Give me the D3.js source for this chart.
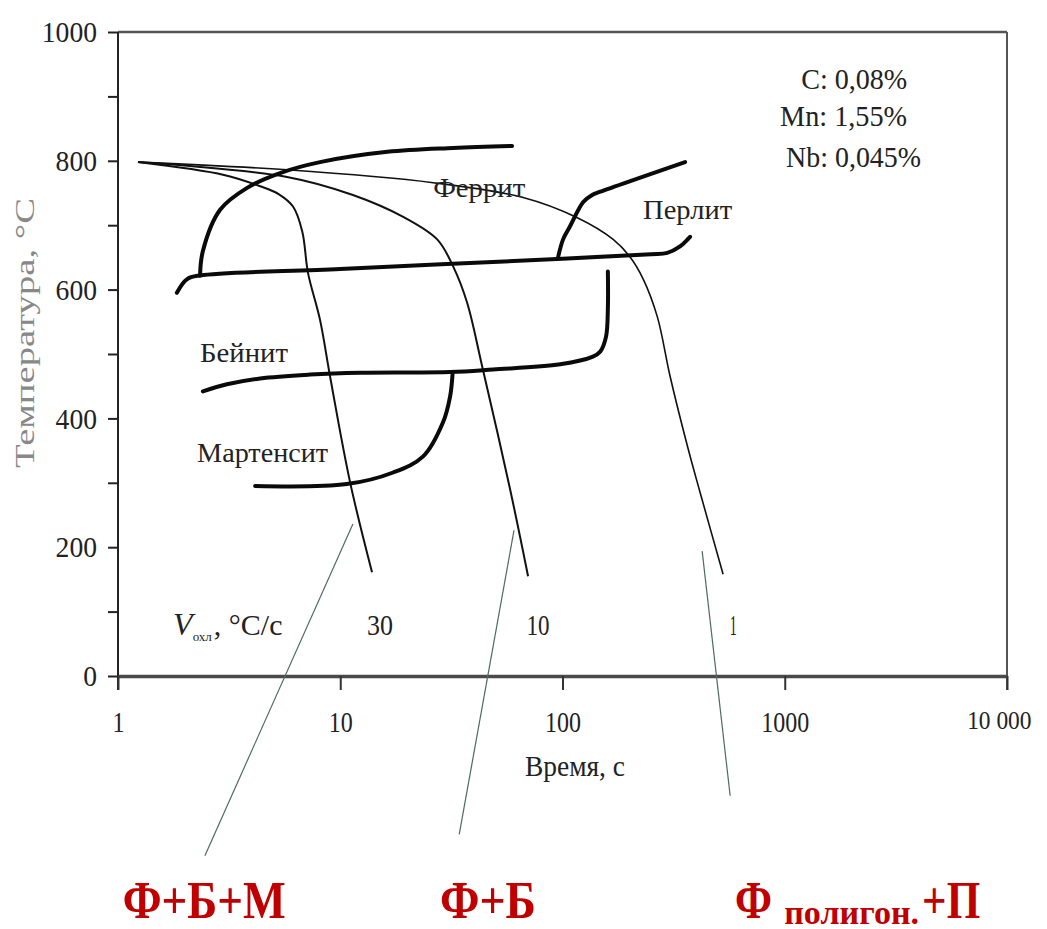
<!DOCTYPE html>
<html><head><meta charset="utf-8">
<script src="https://cdn.jsdelivr.net/npm/d3@7"></script>
<style>
html,body{margin:0;padding:0;background:#fff;}
svg{display:block;}
text{font-family:"Liberation Serif","Times New Roman",serif;}
</style></head>
<body>
<svg id="chart" width="1047" height="929"></svg>
<script>
// ---------- DATA (time in s, temperature in °C) ----------
const xTickValues = [1, 10, 100, 1000, 10000];
const xTickLabels = ["1", "10", "100", "1000", "10 000"];
const yTickValues = [0,100,200,300,400,500,600,700,800,900,1000];
const yTickLabels = ["0","","200","","400","","600","","800","","1000"];

// cooling curves (thin)
const cooling30 = [[1.23,798],[3.0,778],[4.4,760],[5.3,748],[6.13,729],[6.75,690],[7.16,626],[8.11,553],[9.0,465],[11.07,301],[13.9,161]];
const cooling10 = [[1.23,798],[5.76,775],[11.4,747],[19.2,713],[27.3,678],[32.2,636],[37.2,580],[43.5,481],[58.1,290],[70.0,155]];
const cooling1  = [[1.23,798],[5.76,786],[26.2,766],[66.5,743],[116,712],[169,678],[201,651],[231,616],[267,558],[305,465],[368,352],[416,285],[528,158]];
const coolingRates = ["30", "10", "1"];
const coolingRateLabelPos = [[15.1,64],[77.6,64],[586,64]];

// transformation curves (thick)
const ferriteStart = [[2.34,622],[2.41,660],[2.88,724],[3.81,758],[5.36,781],[8.11,798],[16.3,814],[32.2,820],[59.3,823]];
const line600 = [[1.84,595],[2.04,616],[2.34,622],[10,632],[100,648],[250,655],[296,657],[338,667],[375,682]];
const pearliteStart = [[95.5,650],[100.6,678],[108,698],[124,736],[136,747],[148,752],[356,798]];
const bainiteLine = [[2.41,442],[3.09,453],[4.36,462],[7.31,468],[12.3,471],[31.2,472],[48.7,476],[97.6,484],[137,496],[148,504],[157,527],[160,570],[160,628]];
const martensite = [[4.14,295],[10.7,298],[17.3,316],[23.6,341],[29.0,394],[31.2,434],[32.0,468]];

// phase labels
const phaseNames = ["Феррит", "Перлит", "Бейнит", "Мартенсит"];
const phasePos = [[26.2,744],[230.5,710],[2.34,488],[2.27,333]];

// composition
const compLines = ["C: 0,08%", "Mn: 1,55%", "Nb: 0,045%"];
const compPos = [[1186,912],[953,854],[1014,791]];

// pointer lines to structure labels
const pointers = [[[11.4,236],[2.46,-279]], [[60.5,226],[34.3,-246]], [[425,194],[568,-186]]];
const structLabels = ["Ф+Б+М", "Ф+Б"];
const structPos = [[1.05,-375],[28.1,-375]];

// ---------- CHART ----------
const svg = d3.select("#chart");
const x = d3.scaleLog().domain([1, 10000]).range([118, 1007]);
const y = d3.scaleLinear().domain([0, 1000]).range([676, 32]);

function fit(sel, w){ sel.attr("textLength", w).attr("lengthAdjust", "spacingAndGlyphs"); }
function squeeze(sel, r){ sel.each(function(){ const n=this.getComputedTextLength(); if(n>0){ d3.select(this).attr("textLength", n*r).attr("lengthAdjust","spacingAndGlyphs"); } }); }

// frame: top & right
svg.append("line").attr("x1", x(1)).attr("x2", x(10000)).attr("y1", y(1000)).attr("y2", y(1000))
  .attr("stroke", "#555").attr("stroke-width", 2.5);
svg.append("line").attr("x1", x(10000)).attr("x2", x(10000)).attr("y1", y(1000)).attr("y2", y(0)+14)
  .attr("stroke", "#555").attr("stroke-width", 2);

// y axis
const gy = svg.append("g").attr("transform", `translate(${x(1)},0)`)
  .call(d3.axisLeft(y).tickValues(yTickValues).tickSize(10).tickPadding(11).tickSizeOuter(0)
    .tickFormat((d,i)=>yTickLabels[i]));
gy.select(".domain").remove();
gy.selectAll(".tick line").attr("stroke", "#222").attr("stroke-width", 2);
gy.selectAll(".tick text").attr("font-size", 30).attr("fill", "#222")
  .attr("font-family", '"Liberation Serif",serif');
gy.selectAll(".tick text").call(squeeze, 0.92);
svg.append("line").attr("x1", x(1)).attr("x2", x(1)).attr("y1", y(1000)).attr("y2", y(0)+14)
  .attr("stroke", "#222").attr("stroke-width", 2);

// x axis
const lastI = xTickValues.length - 1;
const gx = svg.append("g").attr("transform", `translate(0,${y(0)})`)
  .call(d3.axisBottom(x).tickValues(xTickValues).tickSize(14).tickPadding(21).tickSizeOuter(0)
    .tickFormat((d,i)=>xTickLabels[i]));
gx.select(".domain").attr("stroke", "#4a4a4a").attr("stroke-width", 3.5);
gx.selectAll(".tick line").attr("stroke", "#333").attr("stroke-width", 2);
gx.selectAll(".tick text").attr("font-size", 30)
  .attr("fill", "#222").attr("font-family", '"Liberation Serif",serif');
gx.selectAll(".tick text").each(function(d,i){
  const t = d3.select(this);
  if (i === lastI) { t.attr("font-size", 26).attr("text-anchor", "end").attr("x", 24); }
  t.call(squeeze, i === lastI ? 0.9 : 0.8);
});

// axis titles
svg.append("text").attr("transform", `translate(34,333) rotate(-90)`)
  .attr("text-anchor", "middle").attr("font-size", 28).attr("fill", "#888")
  .text("Температура, °С").call(fit, 270);
svg.append("text").attr("x", 575).attr("y", 776).attr("text-anchor", "middle")
  .attr("font-size", 30).attr("fill", "#222").text("Время, с").call(fit, 100);

// curves
const line = d3.line().x(d => x(d[0])).y(d => y(d[1])).curve(d3.curveCatmullRom.alpha(0.5));
const thin = [cooling30, cooling10, cooling1];
const thinW = [2, 2, 1.6];
svg.append("g").selectAll("path").data(thin).join("path")
  .attr("d", line).attr("fill", "none").attr("stroke", "#111")
  .attr("stroke-width", (d,i)=>thinW[i]);

const thick = [ferriteStart, line600, pearliteStart, bainiteLine, martensite];
svg.append("g").selectAll("path").data(thick).join("path")
  .attr("d", line).attr("fill", "none").attr("stroke", "#0a0a0a")
  .attr("stroke-width", 4).attr("stroke-linecap", "round").attr("stroke-linejoin", "round");

// phase labels
const phaseW = [92, 89, 88, 131];
svg.append("g").selectAll("text").data(phaseNames).join("text")
  .attr("x", (d,i)=>x(phasePos[i][0])).attr("y", (d,i)=>y(phasePos[i][1]))
  .attr("font-size", 28).attr("fill", "#222").text(d=>d)
  .each(function(d,i){ d3.select(this).call(fit, phaseW[i]); });

// composition text
const compW = [106, 127, 135];
svg.append("g").selectAll("text").data(compLines).join("text")
  .attr("x", (d,i)=>x(compPos[i][0])).attr("y", (d,i)=>y(compPos[i][1]))
  .attr("font-size", 30).attr("fill", "#222").text(d=>d)
  .each(function(d,i){ d3.select(this).call(fit, compW[i]); });

// cooling rate labels
const rateW = [26, 23, 7];
svg.append("g").selectAll("text").data(coolingRates).join("text")
  .attr("x", (d,i)=>x(coolingRateLabelPos[i][0])).attr("y", (d,i)=>y(coolingRateLabelPos[i][1]))
  .attr("text-anchor", "middle").attr("font-size", 30).attr("fill", "#222").text(d=>d)
  .each(function(d,i){ d3.select(this).call(fit, rateW[i]); });

// V_охл label
const vt = svg.append("text").attr("x", x(1.77)).attr("y", y(64)).attr("fill", "#222");
vt.append("tspan").attr("font-size", 32).attr("font-style", "italic").text("V");
vt.append("tspan").attr("font-size", 13).attr("dy", 6).text("охл");
vt.append("tspan").attr("font-size", 30).attr("dy", -6).attr("dx", 2).text(", °С/с");

// pointer lines
svg.append("g").selectAll("line").data(pointers).join("line")
  .attr("x1", d=>x(d[0][0])).attr("y1", d=>y(d[0][1]))
  .attr("x2", d=>x(d[1][0])).attr("y2", d=>y(d[1][1]))
  .attr("stroke", "#4d6b61").attr("stroke-width", 1.2);

// structure labels (red)
const red = "#c00000";
const structW = [163, 96];
svg.append("g").selectAll("text").data(structLabels).join("text")
  .attr("x", (d,i)=>x(structPos[i][0])).attr("y", (d,i)=>y(structPos[i][1]))
  .attr("font-size", 52).attr("font-weight", "bold").attr("fill", red).text(d=>d)
  .each(function(d,i){ d3.select(this).call(fit, structW[i]); });

const third = svg.append("g").attr("fill", red).attr("font-weight", "bold");
third.append("text").attr("x", x(598)).attr("y", y(-375)).attr("font-size", 52).text("Ф").call(fit, 37);
third.append("text").attr("x", x(994)).attr("y", y(-375)+6).attr("font-size", 34).text("полигон.").call(fit, 135);
third.append("text").attr("x", x(4150)).attr("y", y(-375)).attr("font-size", 52).text("+П").call(fit, 58);
</script>
</body></html>
